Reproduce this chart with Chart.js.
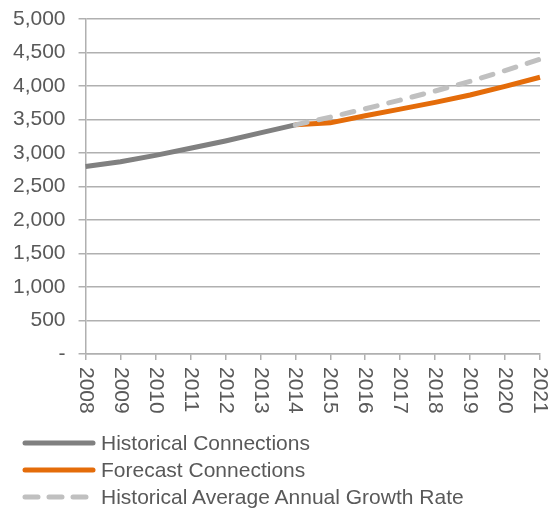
<!DOCTYPE html>
<html>
<head>
<meta charset="utf-8">
<script src="https://cdn.jsdelivr.net/npm/chart.js@4.4.1/dist/chart.umd.min.js"></script>
<style>
  html, body { margin: 0; padding: 0; background: #fff; }
  #wrap { position: relative; width: 558px; height: 514px; }
  #legend { position: absolute; left: 22px; top: 429px; font-family: "Liberation Sans", Arial, sans-serif; font-size: 21px; color: #595959; }
  #legend .row { display: flex; align-items: center; height: 27px; }
  #legend svg { width: 74px; height: 10px; margin-right: 5px; }
</style>
</head>
<body>
<div id="wrap">
  <canvas id="connChart" width="558" height="514"></canvas>
  <div id="legend"></div>
</div>
<script>
const years = ['2008','2009','2010','2011','2012','2013','2014','2015','2016','2017','2018','2019','2020','2021'];
const historical = [2800, 2870, 2965, 3070, 3180, 3300, 3420, null, null, null, null, null, null, null];
const forecast = [null, null, null, null, null, null, 3420, 3450, 3555, 3655, 3755, 3865, 3995, 4130];
const avgGrowth = [null, null, null, null, null, null, 3420, 3535, 3660, 3790, 3925, 4070, 4230, 4400];
const yTicks = [0, 500, 1000, 1500, 2000, 2500, 3000, 3500, 4000, 4500, 5000];

const labelColor = '#595959';
const gridColor = '#b0b0b0';
const font = { family: '"Liberation Sans", Arial, sans-serif', size: 21 };

// x labels read top-to-bottom, so they are painted here instead of by the axis
const verticalLabels = {
  id: 'verticalLabels',
  afterDraw(chart) {
    const ctx = chart.ctx;
    const xs = chart.scales.x;
    ctx.save();
    ctx.fillStyle = labelColor;
    ctx.font = '21px "Liberation Sans", Arial, sans-serif';
    ctx.textAlign = 'left';
    ctx.textBaseline = 'middle';
    years.forEach((y, i) => {
      ctx.save();
      ctx.translate(xs.getPixelForValue(i), chart.chartArea.bottom + 13);
      ctx.rotate(Math.PI / 2);
      ctx.fillText(y, 0, 0);
      ctx.restore();
    });
    ctx.restore();
  }
};

new Chart(document.getElementById('connChart'), {
  type: 'line',
  data: {
    labels: years,
    datasets: [
      {
        label: 'Historical Connections',
        data: historical,
        borderColor: '#808080',
        borderWidth: 5,
        pointRadius: 0,
        order: 2
      },
      {
        label: 'Forecast Connections',
        data: forecast,
        borderColor: '#e46c0a',
        borderWidth: 5,
        pointRadius: 0,
        order: 1
      },
      {
        label: 'Historical Average Annual Growth Rate',
        data: avgGrowth,
        borderColor: '#c0c0c0',
        borderWidth: 5,
        borderDash: [12, 12],
        borderCapStyle: 'round',
        pointRadius: 0,
        order: 0
      }
    ]
  },
  options: {
    responsive: false,
    animation: false,
    spanGaps: false,
    layout: { padding: { top: 19, right: 18, bottom: 154, left: 0 } },
    plugins: { legend: { display: false }, tooltip: { enabled: false } },
    scales: {
      x: {
        offset: false,
        border: { color: gridColor, width: 1.5 },
        grid: { drawOnChartArea: false, color: gridColor, lineWidth: 1.5, tickLength: 6 },
        ticks: { display: false, autoSkip: false }
      },
      y: {
        min: 0,
        max: 5000,
        afterBuildTicks: axis => { axis.ticks = yTicks.map(v => ({ value: v })); },
        afterFit: axis => { axis.paddingTop = 0; axis.paddingBottom = 0; },
        border: { color: gridColor, width: 1.5 },
        grid: { color: gridColor, lineWidth: 1.5, tickLength: 7 },
        ticks: {
          color: labelColor,
          font: font,
          padding: 13,
          callback: v => v === 0 ? '-' : v.toLocaleString('en-US')
        }
      }
    }
  },
  plugins: [verticalLabels]
});

// legend rows below the plot
const legendItems = [
  { text: 'Historical Connections', color: '#808080', dash: '' },
  { text: 'Forecast Connections', color: '#e46c0a', dash: '' },
  { text: 'Historical Average Annual Growth Rate', color: '#c0c0c0', dash: '13 11' }
];
const legend = document.getElementById('legend');
legendItems.forEach(it => {
  const row = document.createElement('div');
  row.className = 'row';
  row.innerHTML = '<svg viewBox="0 0 74 10"><line x1="3" y1="5" x2="71" y2="5" stroke="' + it.color +
    '" stroke-width="5" stroke-linecap="round"' + (it.dash ? ' stroke-dasharray="' + it.dash + '"' : '') +
    '/></svg><span>' + it.text + '</span>';
  legend.appendChild(row);
});
</script>
</body>
</html>
